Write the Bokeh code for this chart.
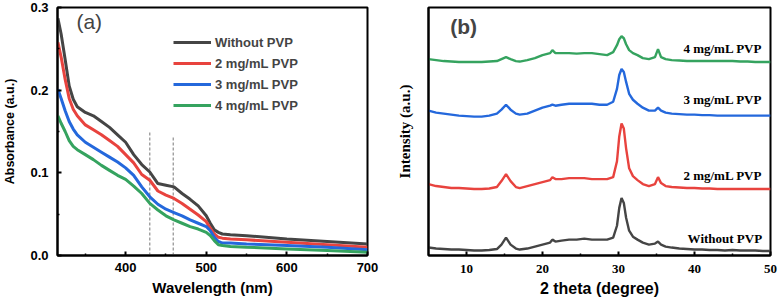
from bokeh.plotting import figure
from bokeh.layouts import row
from bokeh.models import (Range1d, FixedTicker, PrintfTickFormatter, Legend,
                          LegendItem, Label, ColumnDataSource)
from bokeh.embed import file_html
from bokeh.resources import INLINE

# ---------------- Panel (a): UV-vis absorbance ----------------
wavelength = [316, 320, 325, 330, 335, 340, 350, 360, 370, 380, 390, 400, 410, 420,
              430, 440, 450, 460, 470, 480, 490, 500, 505, 510, 515, 520, 530, 550,
              600, 650, 700]
abs_without = [0.287, 0.268, 0.237, 0.205, 0.189, 0.180, 0.173, 0.169, 0.162, 0.155,
               0.146, 0.137, 0.122, 0.110, 0.101, 0.087, 0.085, 0.083, 0.075, 0.068,
               0.060, 0.048, 0.039, 0.031, 0.028, 0.026, 0.025, 0.024, 0.020, 0.017,
               0.014]
abs_2 = [0.258, 0.240, 0.213, 0.190, 0.177, 0.169, 0.158, 0.152, 0.146, 0.139,
         0.132, 0.122, 0.112, 0.098, 0.091, 0.078, 0.073, 0.069, 0.063, 0.056,
         0.049, 0.041, 0.033, 0.026, 0.022, 0.021, 0.020, 0.019, 0.016, 0.013,
         0.010]
abs_3 = [0.201, 0.190, 0.175, 0.162, 0.153, 0.146, 0.137, 0.131, 0.125, 0.119,
         0.113, 0.106, 0.097, 0.083, 0.071, 0.062, 0.056, 0.052, 0.048, 0.043,
         0.039, 0.035, 0.030, 0.022, 0.017, 0.015, 0.015, 0.014, 0.012, 0.010,
         0.007]
abs_4 = [0.169, 0.160, 0.150, 0.139, 0.132, 0.128, 0.122, 0.116, 0.109, 0.103,
         0.097, 0.092, 0.084, 0.075, 0.063, 0.055, 0.048, 0.043, 0.039, 0.035,
         0.032, 0.028, 0.024, 0.018, 0.013, 0.012, 0.011, 0.010, 0.008, 0.006,
         0.004]
series_names = ["Without PVP", "2 mg/mL PVP", "3 mg/mL PVP", "4 mg/mL PVP"]
colors = ["#454545", "#e8433e", "#2468dc", "#35a35f"]

marker_x = [430, 459]
marker_top = [0.151, 0.145]

a_xticks = [400, 500, 600, 700]
a_xminor = [350, 450, 550, 650]
a_yticks = [0.0, 0.1, 0.2, 0.3]
a_yminor = [0.05, 0.15, 0.25]

# ---------------- Panel (b): XRD ----------------
two_theta = [5, 6, 7, 8, 9, 10, 11, 12, 13, 14, 14.6, 15.2, 15.8, 16.5, 17, 18, 19, 20,
             21, 21.3, 21.7, 22.5, 23.5, 24.5, 25.5, 26.5, 27.5, 28.5, 29.3, 29.8,
             30.1, 30.4, 30.7, 31.0, 31.4, 31.9, 32.5, 33.2, 34, 34.8, 35.2, 35.6,
             36.2, 37, 38, 39, 40, 41, 42, 43, 44, 45, 46, 47, 48, 49, 50]
xrd_without = [8, 7, 6.5, 6, 6, 5.5, 5, 5, 5.5, 6.5, 11, 18, 11, 7, 6, 7, 9, 11,
               13, 16, 14, 15, 16, 16, 17, 16, 16, 16, 18, 30,
               48, 58, 53, 38, 25, 19, 16, 13, 11, 12, 14, 11,
               9, 8, 7, 6.5, 6, 6, 5.5, 5.5, 5, 5.5, 5, 5, 5, 4.5, 4.5]
xrd_2 = [72, 70, 69, 68, 68, 67.5, 67, 67, 67.5, 69, 75, 82, 75, 69, 68, 70, 72, 74,
         76, 79, 77, 77, 78, 78, 78, 77, 77, 77, 79, 95,
         120, 133, 128, 108, 88, 80, 76, 72, 70, 72, 79, 73,
         70, 69, 68.5, 68, 68, 67.5, 67.5, 67, 67, 67, 67, 67, 67, 67, 67]
xrd_3 = [146, 144, 143, 142, 141, 140.5, 140, 140, 141, 143, 147, 152, 147, 143, 142,
         143, 146, 149,
         151, 152, 151, 152, 153, 153, 153, 153, 152, 152, 155, 168,
         182, 188, 185, 175, 163, 157, 153, 149, 146, 146, 149, 146,
         144, 143, 142.5, 142, 142, 141.5, 141.5, 141, 141, 141, 141, 141, 141, 141, 141]
xrd_4 = [198, 197, 196, 195.5, 195, 195, 195, 195, 195.5, 196, 198, 200, 198, 196,
         195.5, 197, 199, 202,
         204, 207, 204, 204, 204, 203.5, 204, 204, 203, 202, 205, 212,
         218, 221, 219, 213, 207, 204, 202, 199, 198, 200, 208, 200,
         198, 197, 196.5, 196, 196, 196, 196, 196, 196, 196, 195.5, 195.5, 195, 195, 195]
xrd_label_y = [17, 81, 157, 209]
xrd_label_x = [48.9, 48.9, 48.9, 48.9]

b_xticks = [10, 20, 30, 40, 50]
b_xminor = [15, 25, 35, 45]

SANS = "Liberation Sans"
SERIF = "Liberation Serif"


def style_frame(p):
    p.xgrid.visible = False
    p.ygrid.visible = False
    p.outline_line_color = "black"
    p.outline_line_width = 2
    p.outline_line_alpha = 1
    p.background_fill_color = "white"
    p.border_fill_color = "white"
    for ax in (p.xaxis[0], p.yaxis[0]):
        ax.axis_line_width = 2
        ax.axis_line_color = "black"
        ax.major_tick_in = 4
        ax.major_tick_out = 0
        ax.minor_tick_in = 2
        ax.minor_tick_out = 0
        ax.major_tick_line_width = 2
        ax.minor_tick_line_width = 1.5
        ax.axis_label_text_font_style = "bold"
        ax.axis_label_text_color = "black"
        ax.major_label_text_color = "black"


# ---- figure a ----
p1 = figure(width=390, height=305, x_range=Range1d(315.5, 700), y_range=Range1d(0, 0.3),
            output_backend="svg", toolbar_location=None,
            min_border_left=54, min_border_right=23, min_border_top=7, min_border_bottom=47)
style_frame(p1)
p1.xaxis.ticker = FixedTicker(ticks=a_xticks, minor_ticks=a_xminor)
p1.yaxis.ticker = FixedTicker(ticks=a_yticks, minor_ticks=a_yminor)
p1.yaxis.formatter = PrintfTickFormatter(format="%.1f")
for ax in (p1.xaxis[0], p1.yaxis[0]):
    ax.major_label_text_font = SANS
    ax.major_label_text_font_style = "bold"
    ax.major_label_text_font_size = "13px"
    ax.axis_label_text_font = SANS
p1.xaxis.axis_label = "Wavelength (nm)"
p1.xaxis.axis_label_text_font_size = "15px"
p1.xaxis.major_label_standoff = 7
p1.xaxis.axis_label_standoff = 4
p1.yaxis.axis_label = "Absorbance (a.u.)"
p1.yaxis.axis_label_text_font_size = "12.5px"
p1.yaxis.major_label_standoff = 9
p1.yaxis.axis_label_standoff = 10

p1.segment(x0=marker_x, y0=[0, 0], x1=marker_x, y1=marker_top,
           line_color="#777777", line_width=1, line_dash="3 2")

items = []
for name, ys, c in zip(series_names, [abs_without, abs_2, abs_3, abs_4], colors):
    r = p1.line(wavelength, ys, line_color=c, line_width=3)
    items.append(LegendItem(label=name, renderers=[r]))

legend = Legend(items=items, location=(116, 140), glyph_width=38, glyph_height=20,
                label_height=20, spacing=1, padding=0, margin=0, label_standoff=4,
                border_line_alpha=0, background_fill_alpha=0,
                label_text_font=SANS, label_text_font_style="bold",
                label_text_font_size="13px")
p1.add_layout(legend)

p1.add_layout(Label(x=339, y=0.297, text="(a)", text_font=SANS, text_font_size="21px",
                    text_baseline="top", text_align="left"))

# ---- figure b ----
p2 = figure(width=388, height=305, x_range=Range1d(5, 50), y_range=Range1d(0, 250),
            output_backend="svg", toolbar_location=None,
            min_border_left=38, min_border_right=8, min_border_top=5, min_border_bottom=50)
style_frame(p2)
p2.xaxis.ticker = FixedTicker(ticks=b_xticks, minor_ticks=b_xminor)
p2.yaxis.ticker = FixedTicker(ticks=[], minor_ticks=[])
p2.xaxis.major_label_text_font = SERIF
p2.xaxis.major_label_text_font_style = "bold"
p2.xaxis.major_label_text_font_size = "13px"
p2.xaxis.major_label_standoff = 9
p2.xaxis.axis_label = "2 theta (degree)"
p2.xaxis.axis_label_text_font = SANS
p2.xaxis.axis_label_text_font_size = "16px"
p2.xaxis.axis_label_standoff = 4
p2.yaxis.axis_label = "Intensity (a.u.)"
p2.yaxis.axis_label_text_font = SERIF
p2.yaxis.axis_label_text_font_size = "15px"
p2.yaxis.axis_label_standoff = 16

for ys, c in zip([xrd_without, xrd_2, xrd_3, xrd_4], colors):
    p2.line(two_theta, ys, line_color=c, line_width=2.4)

src = ColumnDataSource(dict(x=xrd_label_x, y=xrd_label_y, t=series_names))
p2.text(x="x", y="y", text="t", source=src, text_align="right", text_baseline="middle",
        text_font={"value": SERIF}, text_font_style="bold", text_font_size="13px",
        text_color="black")

p2.add_layout(Label(x=7.86, y=242, text="(b)", text_font=SANS, text_font_size="21px",
                    text_font_style="bold", text_baseline="top", text_align="left"))

layout = row(p1, p2, spacing=0)
open("out.html", "w").write(file_html(layout, INLINE))
